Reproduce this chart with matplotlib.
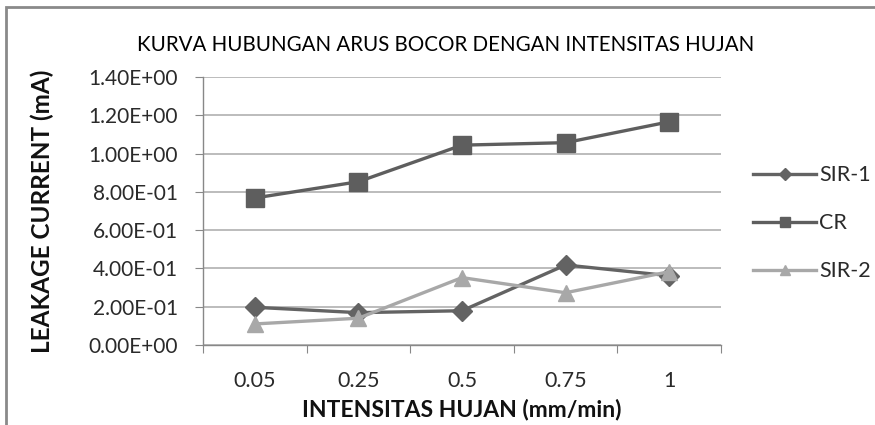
import numpy as np
import matplotlib
matplotlib.use("Agg")
import matplotlib.pyplot as plt
from matplotlib.patches import Rectangle

plt.rcParams["font.family"] = ["Lato", "DejaVu Sans"]

# data
categories = ["0.05", "0.25", "0.5", "0.75", "1"]
sir1 = [0.197, 0.169, 0.179, 0.418, 0.362]
cr = [0.768, 0.853, 1.044, 1.057, 1.166]
sir2 = [0.110, 0.140, 0.352, 0.273, 0.383]
yticks = [0.0, 0.2, 0.4, 0.6, 0.8, 1.0, 1.2, 1.4]

W, H = 875, 425
fig = plt.figure(figsize=(W / 100, H / 100), dpi=100)
ax = fig.add_axes([203 / W, 1 - 345 / H, (721 - 203) / W, (345 - 77) / H])

x = np.arange(len(categories))
ax.plot(x, sir1, color="#636363", lw=2.4, marker="D", ms=10, label="SIR-1", zorder=3)
ax.plot(x, cr, color="#5e5e5e", lw=2.4, marker="s", ms=13, label="CR", zorder=3)
ax.plot(x, sir2, color="#a8a8a8", lw=2.4, marker="^", ms=12, label="SIR-2", zorder=3)

ax.set_xlim(-0.5, len(categories) - 0.5)
ax.set_ylim(0, 1.4)
ax.set_yticks(yticks)
ax.set_yticklabels(["{:.2E}".format(v) for v in yticks], fontsize=15, color="#2a2a2a")
ax.yaxis.grid(True, color="#bcbcbc", lw=1.4)
ax.set_axisbelow(True)

# category ticks at the boundaries, labels in the middle
ax.set_xticks(np.arange(-0.5, len(categories), 1.0))
ax.set_xticklabels([])
ax.set_xticks(x, minor=True)
ax.set_xticklabels(categories, minor=True, fontsize=15.5, color="#2a2a2a")
ax.tick_params(axis="x", which="minor", length=0, pad=19)
ax.tick_params(axis="x", which="major", length=6, color="#888888")
ax.tick_params(axis="y", length=6, color="#888888", pad=12)

for s in ["top", "right"]:
    ax.spines[s].set_visible(False)
for s in ["left", "bottom"]:
    ax.spines[s].set_color("#888888")
    ax.spines[s].set_linewidth(1.0)

fig.text(446 / W, 1 - 45 / H, "KURVA HUBUNGAN ARUS BOCOR DENGAN INTENSITAS HUJAN",
         fontsize=14.8, ha="center", va="center", color="#000000")
fig.text(42 / W, 1 - 211 / H, "LEAKAGE CURRENT (mA)", fontsize=17.5, fontweight="bold",
         rotation=90, ha="center", va="center", color="#111111")
fig.text(462 / W, 1 - 409 / H, "INTENSITAS HUJAN (mm/min)", fontsize=16.5, fontweight="bold",
         ha="center", va="center", color="#111111")

leg = ax.legend(loc="center left", bbox_to_anchor=(1.025, 0.455), frameon=False, fontsize=15.5,
                handlelength=2.9, handletextpad=0.15, labelspacing=1.3, markerscale=0.6)
for t in leg.get_texts():
    t.set_color("#2a2a2a")

fig.patches.append(Rectangle((0.007, -0.05), 1.1, 1.033, transform=fig.transFigure,
                             fill=False, edgecolor="#8a8a8a", lw=2.0))

fig.savefig("out.png", dpi=100)
